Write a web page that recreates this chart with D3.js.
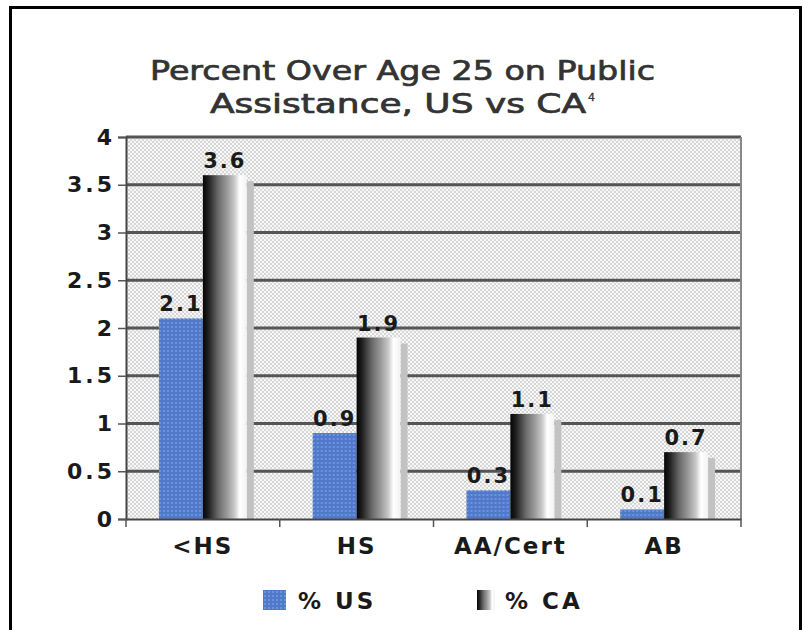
<!DOCTYPE html>
<html>
<head>
<meta charset="utf-8">
<script src="https://cdn.jsdelivr.net/npm/d3@7"></script>
<style>
	body { margin: 0; background: #fff; }
	svg { display: block; }
	.tick text, .lbl { font-family: "DejaVu Sans", Verdana, sans-serif; font-weight: bold; fill: #1a1a1a; }
	.title { font-family: "DejaVu Sans", Verdana, sans-serif; fill: #333; stroke: #333; stroke-width: 0.7px; }
</style>
</head>
<body>
<div id="chart"></div>
<script>

var categories = ["<HS", "HS", "AA/Cert", "AB"];
var seriesNames = ["% US", "% CA"];
var usValues = [2.1, 0.9, 0.3, 0.1];
var caValues = [3.6, 1.9, 1.1, 0.7];
var yTicks = [0, 0.5, 1, 1.5, 2, 2.5, 3, 3.5, 4];
var titleLines = ["Percent Over Age 25 on Public", "Assistance, US vs CA"];

var W = 804, H = 630;
var margin = {top: 137, right: 63, bottom: 111, left: 126};
var width = W - margin.left - margin.right,
	height = H - margin.top - margin.bottom;

var svg = d3.select("#chart").append("svg")
	.attr("width", W)
	.attr("height", H);

var defs = svg.append("defs");

// dotted gray plot background
var pat = defs.append("pattern")
	.attr("id", "dots")
	.attr("width", 4).attr("height", 4)
	.attr("patternUnits", "userSpaceOnUse");
pat.append("rect").attr("width", 4).attr("height", 4).attr("fill", "#d6d6d6");
pat.append("rect").attr("x", 0).attr("y", 0).attr("width", 2).attr("height", 2).attr("fill", "#f8f8f8");
pat.append("rect").attr("x", 2).attr("y", 2).attr("width", 2).attr("height", 2).attr("fill", "#f8f8f8");

// dotted blue for US
var patUs = defs.append("pattern")
	.attr("id", "blue")
	.attr("width", 4).attr("height", 4)
	.attr("patternUnits", "userSpaceOnUse");
patUs.append("rect").attr("width", 4).attr("height", 4).attr("fill", "#5079c9");
patUs.append("rect").attr("x", 1).attr("y", 1).attr("width", 2).attr("height", 2).attr("fill", "#6d93dc");

// cylinder-like gradient for CA
var grad = defs.append("linearGradient")
	.attr("id", "cyl")
	.attr("x1", "0%").attr("x2", "100%").attr("y1", "0%").attr("y2", "0%");
[["0%", "#050505"], ["12%", "#1e1e1e"], ["35%", "#6a6a6a"], ["55%", "#9a9a9a"], ["72%", "#c8c8c8"], ["84%", "#ffffff"], ["100%", "#f2f2f2"]]
	.forEach(function(s) {
		grad.append("stop").attr("offset", s[0]).attr("stop-color", s[1]);
	});

// outer frame (open at the bottom)
svg.append("path")
	.attr("d", "M10.5," + (H + 5) + "V7.5H800.5V" + (H + 5))
	.attr("fill", "none")
	.attr("stroke", "#000")
	.attr("stroke-width", 3);

// title, stretched a bit wider like the original
svg.append("text")
	.attr("class", "title")
	.attr("x", 150).attr("y", 80)
	.attr("textLength", 505)
	.attr("lengthAdjust", "spacingAndGlyphs")
	.style("font-size", "26px")
	.text(titleLines[0]);
svg.append("text")
	.attr("class", "title")
	.attr("x", 210).attr("y", 113)
	.attr("textLength", 376)
	.attr("lengthAdjust", "spacingAndGlyphs")
	.style("font-size", "26px")
	.text(titleLines[1]);
svg.append("text")
	.attr("class", "title")
	.attr("x", 588).attr("y", 101)
	.style("font-size", "11px")
	.style("stroke-width", "0.3px")
	.text("4");

var g = svg.append("g")
	.attr("transform", "translate(" + margin.left + "," + margin.top + ")");

var x0 = d3.scaleBand().domain(categories).range([0, width]).paddingInner(0).paddingOuter(0);
var x1 = d3.scaleBand().domain(seriesNames).range([0, x0.bandwidth()]).paddingInner(0).paddingOuter(0.75);
var y = d3.scaleLinear().domain([0, 4]).range([height, 0]);

g.append("rect")
	.attr("width", width)
	.attr("height", height)
	.attr("fill", "url(#dots)");

// gridlines
g.append("g")
	.selectAll("line")
	.data(yTicks.slice(1))
	.enter()
	.append("line")
	.attr("x1", 0).attr("x2", width)
	.attr("y1", function(d) { return y(d); })
	.attr("y2", function(d) { return y(d); })
	.attr("stroke", "#555")
	.attr("stroke-width", 3);

g.append("line")
	.attr("x1", width).attr("x2", width)
	.attr("y1", 0).attr("y2", height)
	.attr("stroke", "#888").attr("stroke-width", 2);

// bars
var rows = categories.map(function(c, i) {
	return {cat: c, vals: [usValues[i], caValues[i]]};
});

var grp = g.selectAll("g.cat")
	.data(rows)
	.enter()
	.append("g")
	.attr("class", "cat")
	.attr("transform", function(d) { return "translate(" + x0(d.cat) + ",0)"; });

// CA side shadow
grp.append("rect")
	.attr("x", x1(seriesNames[1]) + x1.bandwidth())
	.attr("y", function(d) { return y(d.vals[1]) + 6; })
	.attr("width", 7)
	.attr("height", function(d) { return height - y(d.vals[1]) - 6; })
	.attr("fill", "#c2c2c2");

grp.append("rect")
	.attr("x", x1(seriesNames[0]))
	.attr("y", function(d) { return y(d.vals[0]); })
	.attr("width", x1.bandwidth())
	.attr("height", function(d) { return height - y(d.vals[0]); })
	.attr("fill", "url(#blue)");

grp.append("rect")
	.attr("x", x1(seriesNames[1]))
	.attr("y", function(d) { return y(d.vals[1]); })
	.attr("width", x1.bandwidth())
	.attr("height", function(d) { return height - y(d.vals[1]); })
	.attr("fill", "url(#cyl)");

// value labels
[0, 1].forEach(function(k) {
	grp.append("text")
		.attr("class", "lbl")
		.attr("text-anchor", "middle")
		.attr("x", x1(seriesNames[k]) + x1.bandwidth() / 2)
		.attr("y", function(d) { return y(d.vals[k]) - 7; })
		.style("font-size", "21px")
		.style("letter-spacing", "2px")
		.text(function(d) { return d.vals[k]; });
});

// axes
var yAxis = d3.axisLeft(y).tickValues(yTicks).tickSize(8).tickPadding(6).tickFormat(d3.format(""));
var yG = g.append("g").call(yAxis);
yG.select(".domain").attr("stroke", "#444").attr("stroke-width", 2);
yG.selectAll(".tick line").attr("stroke", "#555").attr("stroke-width", 1.5);
yG.selectAll(".tick text").style("font-size", "22px").style("letter-spacing", "3px").attr("dx", 3);

var xAxis = d3.axisBottom(x0).tickSize(0).tickPadding(15);
var xG = g.append("g").attr("transform", "translate(0," + height + ")").call(xAxis);
xG.select(".domain").attr("stroke", "#444").attr("stroke-width", 2);
xG.selectAll(".tick text").style("font-size", "23px").style("letter-spacing", "2px").attr("dy", "0.85em");

// category boundary ticks
xG.selectAll("line.sep")
	.data(d3.range(categories.length + 1))
	.enter()
	.append("line")
	.attr("class", "sep")
	.attr("x1", function(i) { return i * x0.step(); })
	.attr("x2", function(i) { return i * x0.step(); })
	.attr("y1", 0).attr("y2", 8)
	.attr("stroke", "#555").attr("stroke-width", 1.5);

// legend
var legend = svg.append("g")
	.attr("transform", "translate(263,590)");

var item = legend.selectAll("g")
	.data(seriesNames)
	.enter()
	.append("g")
	.attr("transform", function(d, i) { return "translate(" + (i * 214) + ",0)"; });

item.append("rect")
	.attr("width", function(d, i) { return i ? 18 : 23; })
	.attr("height", 20)
	.attr("fill", function(d, i) { return i ? "url(#cyl)" : "url(#blue)"; });

item.append("text")
	.attr("class", "lbl")
	.attr("x", function(d, i) { return i ? 28 : 35; })
	.attr("y", 19)
	.style("font-size", "23px")
	.style("letter-spacing", "3px")
	.text(function(d) { return d; });

</script>
</body>
</html>
